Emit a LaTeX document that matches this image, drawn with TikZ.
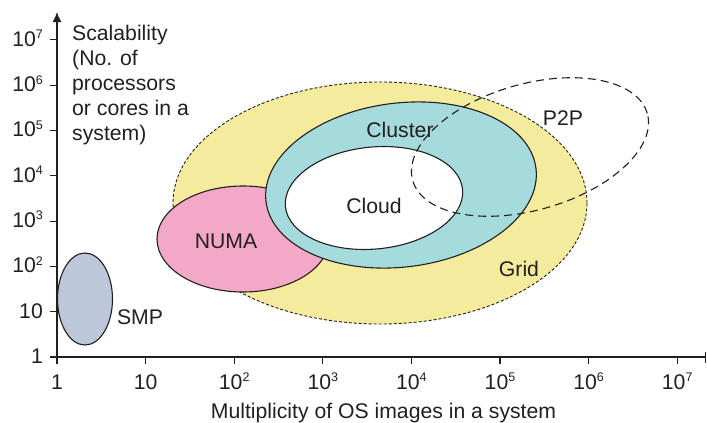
\documentclass[tikz,border=0pt]{standalone}
\usepackage{fontspec}
\setmainfont{Liberation Sans}
\usetikzlibrary{shapes.geometric,arrows.meta}
\definecolor{ink}{HTML}{231F20}
\definecolor{gridfill}{HTML}{F4EC9C}
\definecolor{clusterfill}{HTML}{A5DBDC}
\definecolor{numafill}{HTML}{F4A8C8}
\definecolor{smpfill}{HTML}{BCC7DA}
\newcommand\tenpow[1]{10\raisebox{7.5pt}{\fontsize{12.5}{12.5}\selectfont #1}}
\tikzset{
  lbl/.style={font=\fontsize{21.2}{25}\selectfont, text=ink, inner sep=0pt},
  axisline/.style={draw=ink, line width=1.3pt},
  tickline/.style={draw=ink, line width=1.1pt},
  region/.style={ellipse, draw=ink, line width=1.1pt, inner sep=0pt},
  ylab/.style={lbl, anchor=base east},
  xlab/.style={lbl, anchor=base},
}
\begin{document}
\begin{tikzpicture}[x=1pt,y=-1pt]
\useasboundingbox (0,0) rectangle (707,423);
% regions
\node[region, fill=gridfill, dash pattern=on 3pt off 2pt, line width=0.9pt,
      minimum width=414pt, minimum height=242pt] (grid) at (380,203) {};
\node[region, fill=numafill, minimum width=172pt, minimum height=106pt] (numa) at (243,239) {};
\node[region, fill=clusterfill, minimum width=272pt, minimum height=164pt, rotate=7] (cluster) at (401,185) {};
\node[region, fill=white, minimum width=178pt, minimum height=102pt, rotate=5.5] (cloud) at (374,198) {};
\node[region, dash pattern=on 8pt off 5pt, line width=1.1pt, minimum width=244pt, minimum height=126pt, rotate=16] (p2p) at (530,147) {};
\node[region, fill=smpfill, minimum width=55pt, minimum height=92pt] (smp) at (85,299) {};
% region labels
\node[lbl] (smpl) at (140,317) {SMP};
\node[lbl] (numal) at (226,241) {NUMA};
\node[lbl] (clusterl) at (400,130) {Cluster};
\node[lbl] (cloudl) at (374,206) {Cloud};
\node[lbl] (p2pl) at (563,118) {P2P};
\node[lbl] (gridl) at (519,269) {Grid};
% axes
\coordinate (O) at (57,357);
\coordinate (ytop) at (57,12);
\coordinate (xend) at (706,357);
\draw[axisline, -{Latex[length=10pt,width=9pt]}] (O) -- (ytop);
\draw[axisline, -{Bar[width=11pt]}] (O) -- (xend);
% y ticks
\foreach \k/\t in {0/1,1/10,2/\tenpow{2},3/\tenpow{3},4/\tenpow{4},5/\tenpow{5},6/\tenpow{6},7/\tenpow{7}}{
  \coordinate (yt\k) at (57,357-45.3*\k);
  \coordinate (yl\k) at (50,357-45.3*\k);
  \draw[tickline] (yl\k) -- (yt\k);
  \node[ylab] (ylabel\k) at (43,363.3-45.3*\k) {\t};
}
% x ticks
\foreach \k/\t in {0/1,1/10,2/\tenpow{2},3/\tenpow{3},4/\tenpow{4},5/\tenpow{5},6/\tenpow{6},7/\tenpow{7}}{
  \coordinate (xt\k) at (57+88.6*\k,357);
  \coordinate (xb\k) at (57+88.6*\k,364);
  \draw[tickline] (xt\k) -- (xb\k);
  \node[xlab] (xlabel\k) at (57+88.6*\k,389) {\t};
}
% axis titles
\node[lbl, anchor=north west, align=left] (ytitle) at (72,24.8)
  {Scalability\\(No. of\\processors\\or cores in a\\system)};
\node[lbl, anchor=base] (xtitle) at (383.5,418) {Multiplicity of OS images in a system};
\end{tikzpicture}
\end{document}
